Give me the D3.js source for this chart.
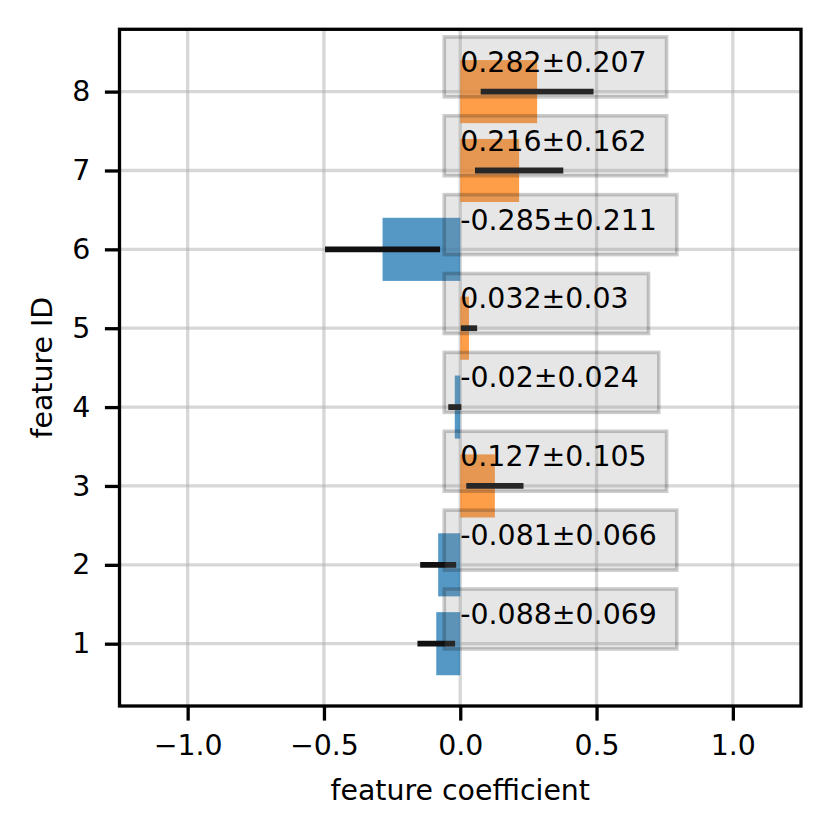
<!DOCTYPE html>
<html>
<head>
<meta charset="utf-8">
<script src="https://cdn.jsdelivr.net/npm/d3@7"></script>
<style>
  html, body { margin: 0; padding: 0; background: #fff; }
  svg { display: block; }
  text { font-family: "DejaVu Sans", sans-serif; }
</style>
</head>
<body>
<svg id="chart" width="831" height="836"></svg>
<script>
// ---- data ----
const featureIds = [1, 2, 3, 4, 5, 6, 7, 8];
const coefficients = [-0.088, -0.081, 0.127, -0.02, 0.032, -0.285, 0.216, 0.282];
const errors = [0.069, 0.066, 0.105, 0.024, 0.03, 0.211, 0.162, 0.207];
const labels = ["-0.088±0.069", "-0.081±0.066", "0.127±0.105", "-0.02±0.024",
                "0.032±0.03", "-0.285±0.211", "0.216±0.162", "0.282±0.207"];
const xTicks = [-1.0, -0.5, 0.0, 0.5, 1.0];
const yTicks = [1, 2, 3, 4, 5, 6, 7, 8];
const xLabel = "feature coefficient";
const yLabel = "feature ID";

// ---- layout ----
const W = 831, H = 836;
const L = 119.5, R = 801, T = 29.3, B = 706;
const FS = 28.4;
const svg = d3.select("#chart");

const x = d3.scaleLinear().domain([-1.25, 1.25]).range([L, R]);
const y = d3.scaleLinear().domain([0.21, 8.79]).range([B, T]);
const barH = 0.8;

const blue = "#1f77b4", orange = "#ff7f0e";

// grid
const grid = svg.append("g");
grid.selectAll("line.gx").data(xTicks).join("line")
  .attr("x1", d => x(d)).attr("x2", d => x(d)).attr("y1", T).attr("y2", B)
  .attr("stroke", "#b0b0b0").attr("stroke-opacity", 0.5).attr("stroke-width", 3.3);
grid.selectAll("line.gy").data(yTicks).join("line")
  .attr("y1", d => y(d)).attr("y2", d => y(d)).attr("x1", L).attr("x2", R)
  .attr("stroke", "#b0b0b0").attr("stroke-opacity", 0.5).attr("stroke-width", 3.3);

const data = featureIds.map((f, i) => ({ f, v: coefficients[i], e: errors[i], s: labels[i] }));

// bars
svg.append("g").selectAll("rect").data(data).join("rect")
  .attr("x", d => Math.min(x(0), x(d.v)))
  .attr("width", d => Math.abs(x(d.v) - x(0)))
  .attr("y", d => y(d.f + barH / 2))
  .attr("height", d => y(d.f - barH / 2) - y(d.f + barH / 2))
  .attr("fill", d => d.v >= 0 ? orange : blue)
  .attr("fill-opacity", 0.76);

// error bars
svg.append("g").selectAll("line").data(data).join("line")
  .attr("x1", d => x(d.v - d.e)).attr("x2", d => x(d.v + d.e))
  .attr("y1", d => y(d.f)).attr("y2", d => y(d.f))
  .attr("stroke", "#111").attr("stroke-width", 5.8);

// annotation boxes + text
const ann = svg.append("g");
data.forEach(d => {
  const g = ann.append("g");
  const bx = x(0), by = y(d.f + 0.25);
  const rect = g.append("rect");
  const t = g.append("text").attr("x", bx).attr("y", by)
    .attr("font-size", FS).attr("fill", "#000").text(d.s);
  const tw = t.node().getComputedTextLength();
  rect.attr("x", bx - 16).attr("y", by - 35)
    .attr("width", tw + 16 + 20).attr("height", 60)
    .attr("fill", "gray").attr("fill-opacity", 0.2)
    .attr("stroke", "#000").attr("stroke-opacity", 0.2).attr("stroke-width", 3.6);
});

// axes
const fmtX = d => d3.format(".1f")(d).replace("-", "\u2212");
const xAxis = svg.append("g").attr("transform", `translate(0,${B})`)
  .call(d3.axisBottom(x).tickValues(xTicks).tickFormat(fmtX).tickSize(14.6).tickPadding(14.6));
const yAxis = svg.append("g").attr("transform", `translate(${L},0)`)
  .call(d3.axisLeft(y).tickValues(yTicks).tickFormat(d3.format("d")).tickSize(14.6).tickPadding(14.6));
[xAxis, yAxis].forEach(a => {
  a.select(".domain").remove();
  a.selectAll(".tick line").attr("stroke", "#000").attr("stroke-width", 3.3);
  a.selectAll(".tick text").attr("font-size", FS).attr("fill", "#000")
    .attr("font-family", "DejaVu Sans, sans-serif");
});

// spines
svg.append("rect").attr("x", L).attr("y", T).attr("width", R - L).attr("height", B - T)
  .attr("fill", "none").attr("stroke", "#000").attr("stroke-width", 3.3);

// axis labels
svg.append("text").attr("x", (L + R) / 2).attr("y", 800).attr("text-anchor", "middle")
  .attr("font-size", FS).attr("fill", "#000").text(xLabel);
svg.append("text").attr("transform", `translate(52,${(T + B) / 2}) rotate(-90)`)
  .attr("text-anchor", "middle").attr("font-size", FS).attr("fill", "#000").text(yLabel);
</script>
</body>
</html>
